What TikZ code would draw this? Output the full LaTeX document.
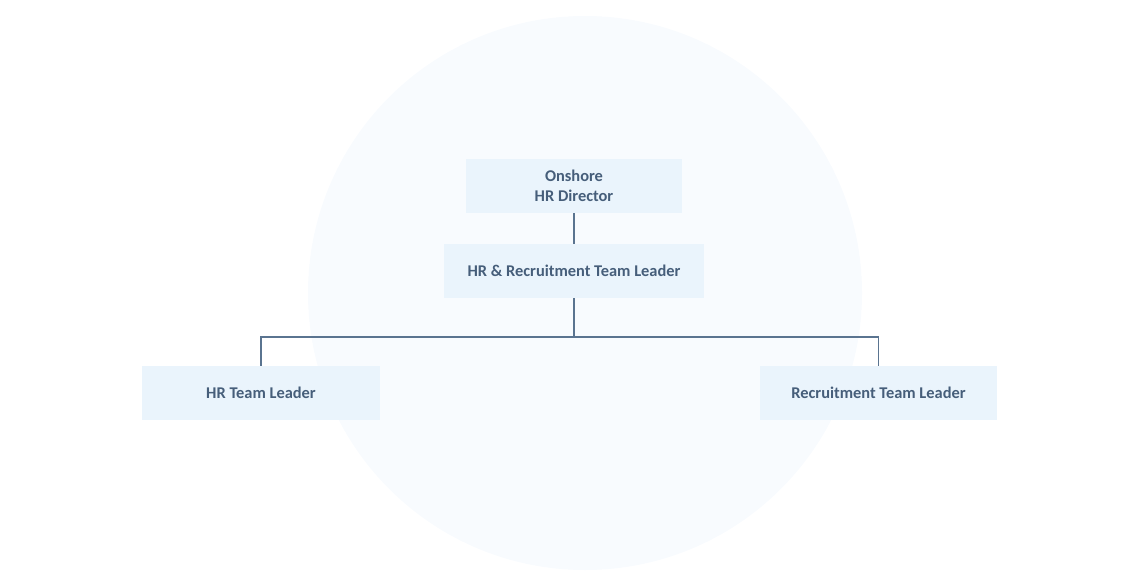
\documentclass[tikz,border=0pt]{standalone}
\usepackage{fontspec}
\setmainfont{Carlito}
\usetikzlibrary{positioning}
\definecolor{boxfill}{HTML}{EAF4FC}
\definecolor{bgcircle}{HTML}{F8FBFE}
\definecolor{linkcol}{HTML}{5A7490}
\definecolor{textcol}{HTML}{465E7A}

\begin{document}
\begin{tikzpicture}[x=1pt, y=-1pt, font=\fontsize{16.4}{20}\selectfont\bfseries,
  role/.style={fill=boxfill, text=textcol, minimum height=54pt, align=center, inner sep=0pt},
  link/.style={draw=linkcol, line width=1.2pt}]
  \useasboundingbox (0,0) rectangle (1140,580);
  % background circle
  \fill[bgcircle] (585,293) circle (277pt);

  % boxes
  \node[role, minimum width=216pt] (director) at (574,186) {Onshore\\HR Director};
  \node[role, minimum width=260pt] (hrlead) at (574,271) {HR \& Recruitment Team Leader};
  \node[role, minimum width=238pt] (hrteam) at (261,393) {HR Team Leader};
  \node[role, minimum width=237pt] (recteam) at (878.5,393) {Recruitment Team Leader};

  % connectors
  \coordinate (split) at (574,337);
  \draw[link] (director) -- (hrlead);
  \draw[link] (hrlead) -- (split);
  \draw[link] (split) -| (hrteam);
  \draw[link] (split) -| (recteam);
\end{tikzpicture}
\end{document}
